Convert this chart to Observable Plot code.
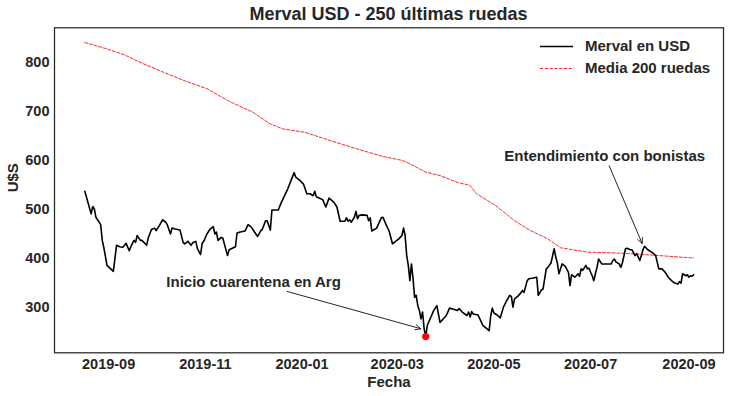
<!DOCTYPE html>
<html>
<head>
<meta charset="utf-8">
<script src="https://cdn.jsdelivr.net/npm/d3@7"></script>
<script src="https://cdn.jsdelivr.net/npm/@observablehq/plot@0.6"></script>
<style>
  html, body { margin: 0; padding: 0; background: #fff; }
  #wrap { position: relative; width: 730px; height: 396px; font-family: "Liberation Sans", Arial, sans-serif; color: #262626; }
  #title { height: 20px; padding-top: 4px; line-height: 20px; font-size: 18px; font-weight: bold; text-align: center; margin-left: 54px; width: 669px; }
  #legend { position: absolute; left: 538px; top: 36px; font-size: 15px; font-weight: bold; }
  #legend .row { position: absolute; left: 0; height: 20px; white-space: nowrap; }
  #legend svg { position: absolute; left: 0; top: 0; }
  #legend span { position: absolute; left: 47px; top: 0; line-height: 20px; }
</style>
</head>
<body>
<div id="wrap">
  <div id="title">Merval USD - 250 últimas ruedas</div>
  <div id="chart"></div>
  <div id="legend">
    <div class="row" style="top:0px"><svg width="40" height="20"><line x1="2" x2="35" y1="10.5" y2="10.5" stroke="#000" stroke-width="1.6"/></svg><span>Merval en USD</span></div>
    <div class="row" style="top:22px"><svg width="40" height="20"><line x1="2" x2="35" y1="10.5" y2="10.5" stroke="red" stroke-width="0.85" stroke-dasharray="3,1.8"/></svg><span>Media 200 ruedas</span></div>
  </div>
</div>
<script>
// Merval en USD (daily closes)
const dates = [
"2019-08-17","2019-08-21","2019-08-22","2019-08-23","2019-08-24","2019-08-25","2019-08-27","2019-08-28","2019-08-29","2019-08-31",
"2019-09-04","2019-09-06","2019-09-08","2019-09-10","2019-09-12","2019-09-14","2019-09-16","2019-09-17","2019-09-18","2019-09-19",
"2019-09-21","2019-09-22","2019-09-25","2019-09-26","2019-09-28","2019-09-30","2019-10-01","2019-10-03","2019-10-05","2019-10-07",
"2019-10-08","2019-10-10","2019-10-11","2019-10-13","2019-10-16","2019-10-18","2019-10-19","2019-10-21","2019-10-23","2019-10-24",
"2019-10-26","2019-10-27","2019-10-29","2019-10-30","2019-10-31","2019-11-02","2019-11-04","2019-11-06","2019-11-07","2019-11-08",
"2019-11-09","2019-11-11","2019-11-12","2019-11-15","2019-11-16","2019-11-20","2019-11-21","2019-11-23","2019-11-26","2019-11-28",
"2019-11-30","2019-12-02","2019-12-04","2019-12-06","2019-12-07","2019-12-09","2019-12-10","2019-12-12","2019-12-13","2019-12-17",
"2019-12-19","2019-12-23","2019-12-27","2019-12-28","2019-12-31","2020-01-02","2020-01-04","2020-01-06","2020-01-08","2020-01-09",
"2020-01-10","2020-01-12","2020-01-14","2020-01-16","2020-01-18","2020-01-21","2020-01-23","2020-01-25","2020-01-26","2020-01-28",
"2020-01-29","2020-01-30","2020-01-31","2020-02-01","2020-02-03","2020-02-04","2020-02-05","2020-02-06","2020-02-08","2020-02-11",
"2020-02-12","2020-02-13","2020-02-14","2020-02-17","2020-02-20","2020-02-21","2020-02-23","2020-02-25","2020-02-27","2020-03-02",
"2020-03-04","2020-03-05","2020-03-06","2020-03-07","2020-03-08","2020-03-09","2020-03-10","2020-03-11","2020-03-12","2020-03-13",
"2020-03-14","2020-03-15","2020-03-16","2020-03-17","2020-03-18","2020-03-19","2020-03-20","2020-03-22","2020-03-24","2020-03-26",
"2020-03-28","2020-03-30","2020-04-01","2020-04-03","2020-04-06","2020-04-08","2020-04-09","2020-04-11","2020-04-14","2020-04-15",
"2020-04-16","2020-04-17","2020-04-18","2020-04-21","2020-04-24","2020-04-28","2020-04-29","2020-04-30","2020-05-01","2020-05-03",
"2020-05-05","2020-05-07","2020-05-09","2020-05-11","2020-05-12","2020-05-13","2020-05-14","2020-05-16","2020-05-18","2020-05-19",
"2020-05-20","2020-05-22","2020-05-23","2020-05-25","2020-05-28","2020-05-29","2020-05-31","2020-06-01","2020-06-03","2020-06-04",
"2020-06-06","2020-06-08","2020-06-09","2020-06-10","2020-06-11","2020-06-13","2020-06-15","2020-06-17","2020-06-18","2020-06-19",
"2020-06-21","2020-06-22","2020-06-23","2020-06-24","2020-06-25","2020-06-26","2020-06-28","2020-06-29","2020-06-30","2020-07-01",
"2020-07-02","2020-07-03","2020-07-04","2020-07-05","2020-07-06","2020-07-08","2020-07-10","2020-07-12","2020-07-14","2020-07-15",
"2020-07-16","2020-07-17","2020-07-19","2020-07-20","2020-07-21","2020-07-23","2020-07-24","2020-07-26","2020-07-27","2020-07-29",
"2020-07-30","2020-08-01","2020-08-02","2020-08-03","2020-08-04","2020-08-06","2020-08-09","2020-08-11","2020-08-13","2020-08-15",
"2020-08-17","2020-08-19","2020-08-21","2020-08-23","2020-08-25","2020-08-26","2020-08-27","2020-08-28","2020-08-30","2020-08-31",
"2020-09-01","2020-09-02","2020-09-03","2020-09-04"
];
const values = [
537,491,506,501,484,479,469,437,422,386,
374,427,424,423,431,416,431,437,433,447,
437,437,427,442,459,462,457,467,479,474,
469,450,462,460,458,433,430,435,427,432,
435,420,408,431,435,450,460,465,450,454,
437,443,442,406,418,424,452,454,456,469,
464,454,445,457,460,477,477,458,499,499,
515,542,575,566,558,551,532,532,528,537,
526,523,520,505,523,515,505,476,476,476,
483,476,479,474,484,496,481,488,489,488,
477,483,456,462,483,484,469,455,430,440,
447,462,447,406,386,355,389,359,321,325,
304,294,277,291,257,241,264,279,294,304,
270,277,284,299,296,294,298,291,284,291,
281,292,287,285,264,253,284,299,289,285,
279,301,314,325,323,301,318,323,330,335,
331,355,359,360,362,325,336,338,379,382,
391,420,403,391,369,389,384,372,345,367,
362,365,369,364,379,376,386,379,380,372,
365,355,369,382,399,389,389,389,389,396,
399,393,389,382,391,420,421,418,418,406,
410,396,406,418,425,418,412,406,379,379,
372,362,355,350,348,353,350,369,365,367,
362,365,364,367
];

// Media 200 ruedas
const maDates = [
"2019-08-17","2019-08-31","2019-09-11","2019-09-22","2019-10-06","2019-10-19","2019-11-02","2019-11-15","2019-12-01","2019-12-12",
"2019-12-20","2020-01-03","2020-01-19","2020-02-05","2020-02-21","2020-03-04","2020-03-09","2020-03-19","2020-03-28","2020-04-08",
"2020-04-16","2020-04-20","2020-05-02","2020-05-14","2020-05-24","2020-06-04","2020-06-12","2020-06-29","2020-07-20","2020-08-09",
"2020-09-04"
];
const maValues = [
840,827,815,798,779,762,746,722,698,674,
664,657,640,623,608,600,593,576,569,555,
549,532,508,477,457,440,422,413,411,407,
401
];

const xTickLabels = ["2019-09","2019-11","2020-01","2020-03","2020-05","2020-07","2020-09"];
const yTicks = [300, 400, 500, 600, 700, 800];

// annotations
const annTexts = ["Entendimiento con bonistas", "Inicio cuarentena en Arg"];
const annTextDates = ["2020-05-07T12:00Z", "2019-10-07T10:00Z"];
const annTextValues = [599.6, 343];
const annTailDates = ["2020-07-12T17:00Z", "2019-12-22T14:00Z"];
const annTailValues = [589, 333];
const annHeadDates = ["2020-08-02T12:00Z", "2020-03-15T22:00Z"];
const annHeadValues = [430.5, 257];

const merval = dates.map((d, i) => ({date: new Date(d), value: values[i]}));
const media = maDates.map((d, i) => ({date: new Date(d), value: maValues[i]}));
const minPoint = d3.least(merval, d => d.value);
const ann = annTexts.map((t, i) => ({
  text: t,
  tx: new Date(annTextDates[i]), ty: annTextValues[i],
  x1: new Date(annTailDates[i]), y1: annTailValues[i],
  x2: new Date(annHeadDates[i]), y2: annHeadValues[i]
}));
const xTicks = xTickLabels.map(s => new Date(s + "-01"));
const ink = "#262626";

const chart = Plot.plot({
  width: 730,
  height: 372,
  marginTop: 3.3,
  marginBottom: 43.7,
  marginLeft: 54,
  marginRight: 7,
  style: {fontFamily: "'Liberation Sans', Arial, sans-serif", fontSize: "14.5px", fontWeight: "bold", color: ink, background: "white", overflow: "visible"},
  x: {type: "utc", domain: [new Date("2019-07-28T21:00Z"), new Date("2020-09-22T19:00Z")]},
  y: {domain: [208, 870]},
  marks: [
    Plot.axisX(xTicks, {tickSize: 0, tickPadding: 6, tickFormat: d3.utcFormat("%Y-%m"), label: null, fill: ink}),
    Plot.axisY(yTicks, {tickSize: 0, tickPadding: 5, label: null, fill: ink}),
    Plot.line(media, {x: "date", y: "value", stroke: "red", strokeWidth: 0.85, strokeDasharray: "3,1.8"}),
    Plot.line(merval, {x: "date", y: "value", stroke: "black", strokeWidth: 1.6}),
    Plot.dot([minPoint], {x: "date", y: "value", r: 3.6, fill: "red", stroke: "none"}),
    Plot.arrow(ann, {x1: "x1", y1: "y1", x2: "x2", y2: "y2", stroke: ink, strokeWidth: 1, headLength: 9, headAngle: 50}),
    Plot.text(ann, {x: "tx", y: "ty", text: "text", textAnchor: "start", lineAnchor: "bottom", fontSize: 15, fontWeight: "bold", fill: ink}),
    Plot.text(["Fecha"], {frameAnchor: "bottom", dy: 34, lineAnchor: "bottom", fontSize: 15, fontWeight: "bold", fill: ink}),
    Plot.text(["U$S"], {frameAnchor: "left", dx: -41, dy: 2, rotate: -90, fontSize: 15, fontWeight: "bold", fill: ink}),
    Plot.frame({stroke: ink, strokeWidth: 1.25})
  ]
});
document.getElementById("chart").appendChild(chart);
</script>
</body>
</html>
